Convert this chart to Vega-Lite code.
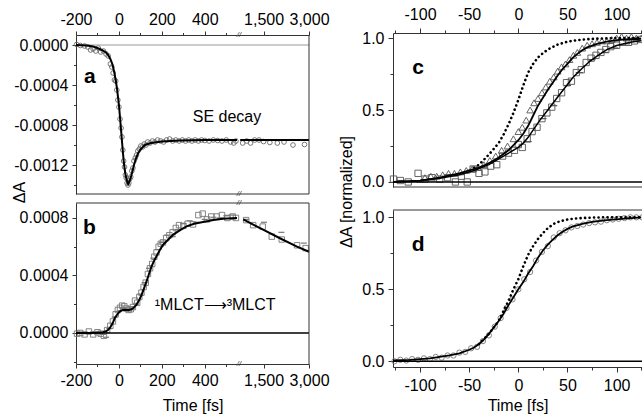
{
  "$schema": "https://vega.github.io/schema/vega-lite/v6.json",
  "width": 642,
  "height": 414,
  "autosize": {"type": "none"},
  "padding": 0,
  "background": "white",
  "config": {
    "font": "Liberation Sans",
    "view": {"stroke": null},
    "axis": {
      "labelFont": "Liberation Sans", "labelFontSize": 16, "labelColor": "#000",
      "titleFont": "Liberation Sans", "titleFontSize": 16, "titleFontWeight": "normal", "titleColor": "#000",
      "domainColor": "#333", "tickColor": "#333", "grid": false,
      "labelFlush": false, "labelOverlap": false, "labelBound": false
    }
  },
  "datasets": {
    "aFit": [
      {"t":-200,"v":0},{"t":-150,"v":-0.000005},{"t":-120,"v":-0.000015},{"t":-100,"v":-0.00003},{"t":-80,"v":-0.00005},
      {"t":-60,"v":-0.000075},{"t":-50,"v":-0.0001},{"t":-40,"v":-0.00014},{"t":-30,"v":-0.000195},{"t":-20,"v":-0.00029},
      {"t":-10,"v":-0.00042},{"t":0,"v":-0.0006},{"t":8,"v":-0.0008},{"t":16,"v":-0.00101},{"t":23,"v":-0.00118},
      {"t":30,"v":-0.00129},{"t":37,"v":-0.00136},{"t":43,"v":-0.00139},{"t":50,"v":-0.00136},{"t":57,"v":-0.00131},
      {"t":63,"v":-0.00126},{"t":70,"v":-0.0012},{"t":80,"v":-0.00113},{"t":90,"v":-0.00108},{"t":100,"v":-0.001045},
      {"t":121,"v":-0.001},{"t":150,"v":-0.00098},{"t":200,"v":-0.000965},{"t":284,"v":-0.000955},{"t":400,"v":-0.00095},
      {"t":550,"v":-0.00095},{"t":1050,"v":-0.00095},{"t":3000,"v":-0.00095}
    ],
    "aPts": [
      {"t":-197,"v":0.000005},{"t":-180,"v":-0.000005},{"t":-160,"v":-0.00001},{"t":-145,"v":-0.00002},{"t":-132,"v":-0.00005},
      {"t":-120,"v":-0.00004},{"t":-108,"v":-0.00006},{"t":-96,"v":-0.00003},{"t":-85,"v":-0.00007},{"t":-72,"v":-0.00006},
      {"t":-60,"v":-0.00009},{"t":-50,"v":-0.00011},{"t":-40,"v":-0.00019},{"t":-33,"v":-0.00022},{"t":-27,"v":-0.00028},
      {"t":-21,"v":-0.00035},{"t":-15,"v":-0.00036},{"t":-10,"v":-0.00045},{"t":-5,"v":-0.00055},{"t":0,"v":-0.00062},
      {"t":5,"v":-0.00074},{"t":10,"v":-0.00083},{"t":14,"v":-0.00092},{"t":18,"v":-0.00105},{"t":22,"v":-0.00116},
      {"t":26,"v":-0.00122},{"t":30,"v":-0.0013},{"t":34,"v":-0.00133},{"t":38,"v":-0.00138},{"t":42,"v":-0.0014},
      {"t":46,"v":-0.00138},{"t":50,"v":-0.00134},{"t":55,"v":-0.00132},{"t":60,"v":-0.00126},{"t":65,"v":-0.00123},
      {"t":70,"v":-0.00116},{"t":76,"v":-0.00113},{"t":82,"v":-0.0011},{"t":88,"v":-0.00106},{"t":95,"v":-0.00104},
      {"t":102,"v":-0.00101},{"t":110,"v":-0.00102},{"t":118,"v":-0.00099},{"t":126,"v":-0.001},{"t":134,"v":-0.00097},
      {"t":145,"v":-0.00098},{"t":156,"v":-0.00096},{"t":168,"v":-0.00097},{"t":180,"v":-0.00095},{"t":194,"v":-0.00096},
      {"t":208,"v":-0.00097},{"t":222,"v":-0.00095},{"t":236,"v":-0.00094},{"t":250,"v":-0.00096},{"t":265,"v":-0.00095},
      {"t":280,"v":-0.00096},{"t":295,"v":-0.00095},{"t":310,"v":-0.00096},{"t":325,"v":-0.00095},{"t":340,"v":-0.00096},
      {"t":355,"v":-0.00095},{"t":370,"v":-0.00096},{"t":385,"v":-0.00095},{"t":400,"v":-0.000955},{"t":420,"v":-0.00096},
      {"t":440,"v":-0.00095},{"t":460,"v":-0.000955},{"t":480,"v":-0.00096},{"t":500,"v":-0.00095},{"t":520,"v":-0.00097},
      {"t":535,"v":-0.00098},{"t":545,"v":-0.00096},
      {"t":1090,"v":-0.00098},{"t":1160,"v":-0.00096},{"t":1230,"v":-0.00098},{"t":1310,"v":-0.00095},{"t":1400,"v":-0.00095},
      {"t":1500,"v":-0.000965},{"t":1650,"v":-0.000975},{"t":1850,"v":-0.00098},{"t":2050,"v":-0.00097},{"t":2350,"v":-0.001},
      {"t":2800,"v":-0.000995}
    ],
    "bFit": [
      {"t":-200,"v":0},{"t":-150,"v":0},{"t":-100,"v":0.000002},{"t":-75,"v":0.000005},{"t":-60,"v":0.000012},
      {"t":-50,"v":0.000022},{"t":-42,"v":0.000035},{"t":-30,"v":0.000065},{"t":-19,"v":0.000104},{"t":-5,"v":0.000135},
      {"t":5,"v":0.00015},{"t":15,"v":0.000158},{"t":28,"v":0.000162},{"t":45,"v":0.00016},{"t":59,"v":0.000165},
      {"t":70,"v":0.000178},{"t":82,"v":0.000197},{"t":95,"v":0.00023},{"t":106,"v":0.000266},{"t":118,"v":0.000315},
      {"t":129,"v":0.00036},{"t":140,"v":0.00041},{"t":152,"v":0.000464},{"t":163,"v":0.0005},{"t":175,"v":0.000533},
      {"t":190,"v":0.000575},{"t":206,"v":0.000614},{"t":230,"v":0.00065},{"t":253,"v":0.000684},{"t":285,"v":0.000715},
      {"t":315,"v":0.000742},{"t":350,"v":0.00076},{"t":392,"v":0.000772},{"t":440,"v":0.000785},{"t":485,"v":0.000795},
      {"t":550,"v":0.0008},
      {"t":1100,"v":0.00079},{"t":1300,"v":0.00075},{"t":1500,"v":0.000717},{"t":2000,"v":0.00065},{"t":2500,"v":0.0006},{"t":3000,"v":0.000565}
    ],
    "bSq": [
      {"t":-195,"v":-0.000005},{"t":-180,"v":0},{"t":-160,"v":-0.00001},{"t":-140,"v":0.00001},{"t":-120,"v":-0.00001},
      {"t":-100,"v":0.000005},{"t":-85,"v":-0.000005},{"t":-70,"v":-0.00002},{"t":-55,"v":0.00002},{"t":-40,"v":0.00005},
      {"t":-28,"v":0.00008},{"t":-15,"v":0.00013},{"t":-5,"v":0.00016},{"t":5,"v":0.000175},{"t":15,"v":0.00019},
      {"t":25,"v":0.000185},{"t":35,"v":0.00017},{"t":45,"v":0.00016},{"t":55,"v":0.000165},{"t":65,"v":0.00018},
      {"t":75,"v":0.000225},{"t":85,"v":0.00021},{"t":95,"v":0.00025},{"t":105,"v":0.00028},{"t":115,"v":0.00032},
      {"t":125,"v":0.00035},{"t":135,"v":0.00041},{"t":145,"v":0.00045},{"t":155,"v":0.00048},{"t":165,"v":0.00053},
      {"t":175,"v":0.00056},{"t":185,"v":0.0006},{"t":195,"v":0.00062},{"t":205,"v":0.00063},{"t":220,"v":0.00066},
      {"t":235,"v":0.00068},{"t":250,"v":0.0007},{"t":265,"v":0.00073},{"t":280,"v":0.00075},{"t":300,"v":0.000745},
      {"t":320,"v":0.00076},{"t":345,"v":0.000755},{"t":370,"v":0.00082},{"t":390,"v":0.00083},{"t":410,"v":0.00079},
      {"t":430,"v":0.00081},{"t":455,"v":0.00081},{"t":480,"v":0.00082},{"t":505,"v":0.0008},{"t":530,"v":0.00081},
      {"t":545,"v":0.0008},
      {"t":1150,"v":0.000785},{"t":1280,"v":0.00075},{"t":1480,"v":0.00074},{"t":1700,"v":0.00067},{"t":1980,"v":0.00065},
      {"t":2500,"v":0.00061},{"t":2850,"v":0.00059}
    ],
    "bDash": [
      {"t":-185,"v":0.000005},{"t":-150,"v":-0.000005},{"t":-110,"v":0.00001},{"t":-75,"v":-0.00001},{"t":-60,"v":-0.00003},
      {"t":-45,"v":0.00003},{"t":-20,"v":0.00011},{"t":0,"v":0.00015},{"t":20,"v":0.000175},{"t":40,"v":0.000155},
      {"t":60,"v":0.00017},{"t":80,"v":0.0002},{"t":100,"v":0.00027},{"t":120,"v":0.00035},{"t":140,"v":0.00045},
      {"t":160,"v":0.00052},{"t":180,"v":0.00058},{"t":200,"v":0.00063},{"t":225,"v":0.00068},{"t":250,"v":0.00067},
      {"t":275,"v":0.00072},{"t":300,"v":0.00076},{"t":330,"v":0.00078},{"t":360,"v":0.00077},{"t":400,"v":0.00079},
      {"t":440,"v":0.000805},{"t":470,"v":0.0008},{"t":500,"v":0.000815},{"t":525,"v":0.00082},
      {"t":1150,"v":0.00079},{"t":1510,"v":0.00077},{"t":1970,"v":0.0007},{"t":2770,"v":0.000625}
    ],
    "cDot": [
      {"t":-45,"v":0.1},{"t":-40,"v":0.12},{"t":-30,"v":0.19},{"t":-20,"v":0.27},{"t":-15,"v":0.33},{"t":-10,"v":0.4},
      {"t":-5,"v":0.48},{"t":0,"v":0.57},{"t":5,"v":0.67},{"t":10,"v":0.76},{"t":15,"v":0.82},{"t":20,"v":0.865},
      {"t":25,"v":0.895},{"t":30,"v":0.92},{"t":40,"v":0.955},{"t":50,"v":0.975},{"t":60,"v":0.985},{"t":70,"v":0.992},
      {"t":80,"v":0.996},{"t":100,"v":1.0},{"t":125,"v":1.0}
    ],
    "cTriFit": [
      {"t":-127.5,"v":0},{"t":-110,"v":0.005},{"t":-100,"v":0.01},{"t":-90,"v":0.02},{"t":-80,"v":0.03},{"t":-70,"v":0.045},
      {"t":-60,"v":0.06},{"t":-50,"v":0.08},{"t":-40,"v":0.1},{"t":-30,"v":0.13},{"t":-20,"v":0.17},{"t":-10,"v":0.22},
      {"t":0,"v":0.29},{"t":5,"v":0.335},{"t":10,"v":0.39},{"t":15,"v":0.46},{"t":20,"v":0.53},{"t":25,"v":0.585},
      {"t":30,"v":0.64},{"t":35,"v":0.69},{"t":40,"v":0.74},{"t":45,"v":0.785},{"t":50,"v":0.82},{"t":55,"v":0.86},
      {"t":60,"v":0.89},{"t":65,"v":0.915},{"t":70,"v":0.935},{"t":80,"v":0.96},{"t":90,"v":0.975},{"t":100,"v":0.985},
      {"t":110,"v":0.99},{"t":125,"v":0.995}
    ],
    "cSqFit": [
      {"t":-127.5,"v":0},{"t":-100,"v":0.01},{"t":-80,"v":0.025},{"t":-60,"v":0.05},{"t":-45,"v":0.08},{"t":-30,"v":0.12},
      {"t":-15,"v":0.18},{"t":0,"v":0.24},{"t":5,"v":0.27},{"t":10,"v":0.31},{"t":15,"v":0.36},{"t":22,"v":0.43},
      {"t":30,"v":0.5},{"t":40,"v":0.59},{"t":48,"v":0.66},{"t":56,"v":0.73},{"t":65,"v":0.79},{"t":73,"v":0.84},
      {"t":80,"v":0.875},{"t":90,"v":0.92},{"t":100,"v":0.948},{"t":114,"v":0.97},{"t":125,"v":0.982}
    ],
    "cTri": [
      {"t":-95,"v":0.03},{"t":-89,"v":0.04},{"t":-83,"v":0.04},{"t":-77,"v":0.05},{"t":-71,"v":0.06},{"t":-65,"v":0.06},
      {"t":-59,"v":0.07},{"t":-53,"v":0.08},{"t":-47,"v":0.09},{"t":-41,"v":0.1},{"t":-35,"v":0.12},{"t":-29,"v":0.15},
      {"t":-23,"v":0.18},{"t":-17,"v":0.22},{"t":-11,"v":0.25},{"t":-5,"v":0.3},{"t":0,"v":0.35},{"t":4,"v":0.38},
      {"t":8,"v":0.43},{"t":12,"v":0.5},{"t":16,"v":0.55},{"t":20,"v":0.58},{"t":24,"v":0.62},{"t":28,"v":0.66},
      {"t":32,"v":0.7},{"t":36,"v":0.73},{"t":40,"v":0.77},{"t":44,"v":0.8},{"t":48,"v":0.82},{"t":52,"v":0.85},
      {"t":56,"v":0.88},{"t":60,"v":0.9},{"t":65,"v":0.93},{"t":70,"v":0.95},{"t":75,"v":0.96},{"t":80,"v":0.97},
      {"t":85,"v":0.98},{"t":90,"v":0.98},{"t":95,"v":0.99},{"t":100,"v":1.0},{"t":105,"v":1.01},{"t":110,"v":1.0},
      {"t":115,"v":1.01},{"t":120,"v":1.0},{"t":125,"v":1.0}
    ],
    "cSq": [
      {"t":-127,"v":0.02},{"t":-120,"v":0.01},{"t":-112,"v":0.0},{"t":-102,"v":0.06},{"t":-95,"v":0.02},{"t":-88,"v":0.03},
      {"t":-80,"v":0.02},{"t":-72,"v":0.03},{"t":-64,"v":0.0},{"t":-58,"v":0.04},{"t":-52,"v":0.0},{"t":-46,"v":0.09},
      {"t":-40,"v":0.06},{"t":-34,"v":0.07},{"t":-28,"v":0.11},{"t":-22,"v":0.12},{"t":-16,"v":0.18},{"t":-10,"v":0.2},
      {"t":-4,"v":0.22},{"t":0,"v":0.26},{"t":4,"v":0.24},{"t":9,"v":0.3},{"t":14,"v":0.35},{"t":19,"v":0.38},
      {"t":24,"v":0.44},{"t":29,"v":0.48},{"t":34,"v":0.52},{"t":39,"v":0.58},{"t":44,"v":0.62},{"t":49,"v":0.69},
      {"t":54,"v":0.7},{"t":59,"v":0.76},{"t":64,"v":0.78},{"t":69,"v":0.83},{"t":74,"v":0.86},{"t":79,"v":0.88},
      {"t":84,"v":0.9},{"t":89,"v":0.92},{"t":94,"v":0.94},{"t":100,"v":0.95},{"t":106,"v":0.97},{"t":112,"v":0.97},
      {"t":118,"v":0.98},{"t":124,"v":0.99}
    ],
    "cDash": [
      {"t":-120,"v":0.01},{"t":-100,"v":0.0},{"t":10,"v":0.28},{"t":25,"v":0.44},{"t":36,"v":0.53},{"t":50,"v":0.67},
      {"t":62,"v":0.76},{"t":75,"v":0.85},{"t":88,"v":0.9},{"t":98,"v":0.93},{"t":110,"v":0.96},{"t":120,"v":0.98}
    ],
    "dDot": [
      {"t":-40,"v":0.12},{"t":-30,"v":0.19},{"t":-25,"v":0.235},{"t":-20,"v":0.28},{"t":-15,"v":0.35},{"t":-10,"v":0.42},
      {"t":-5,"v":0.5},{"t":0,"v":0.57},{"t":5,"v":0.66},{"t":10,"v":0.74},{"t":15,"v":0.8},{"t":20,"v":0.85},
      {"t":25,"v":0.89},{"t":30,"v":0.925},{"t":36,"v":0.955},{"t":42,"v":0.972},{"t":50,"v":0.985},{"t":60,"v":0.993},
      {"t":70,"v":0.997},{"t":85,"v":1.0},{"t":125,"v":1.0}
    ],
    "dFit": [
      {"t":-127.5,"v":0.005},{"t":-110,"v":0.01},{"t":-100,"v":0.015},{"t":-90,"v":0.02},{"t":-80,"v":0.03},{"t":-70,"v":0.04},
      {"t":-60,"v":0.055},{"t":-50,"v":0.08},{"t":-45,"v":0.095},{"t":-40,"v":0.12},{"t":-35,"v":0.15},{"t":-30,"v":0.19},
      {"t":-25,"v":0.235},{"t":-20,"v":0.28},{"t":-15,"v":0.33},{"t":-10,"v":0.39},{"t":-5,"v":0.445},{"t":0,"v":0.5},
      {"t":5,"v":0.55},{"t":10,"v":0.61},{"t":15,"v":0.66},{"t":20,"v":0.72},{"t":25,"v":0.77},{"t":30,"v":0.81},
      {"t":35,"v":0.845},{"t":40,"v":0.875},{"t":45,"v":0.9},{"t":50,"v":0.92},{"t":55,"v":0.935},{"t":65,"v":0.955},
      {"t":75,"v":0.968},{"t":90,"v":0.98},{"t":105,"v":0.99},{"t":125,"v":1.0}
    ],
    "dPts": [
      {"t":-126,"v":0.0},{"t":-120,"v":0.01},{"t":-114,"v":0.005},{"t":-108,"v":0.015},{"t":-102,"v":0.01},{"t":-96,"v":0.02},
      {"t":-90,"v":0.015},{"t":-84,"v":0.03},{"t":-78,"v":0.025},{"t":-72,"v":0.04},{"t":-66,"v":0.04},{"t":-60,"v":0.06},
      {"t":-54,"v":0.065},{"t":-48,"v":0.09},{"t":-42,"v":0.1},{"t":-36,"v":0.14},{"t":-30,"v":0.18},{"t":-24,"v":0.24},
      {"t":-18,"v":0.3},{"t":-12,"v":0.37},{"t":-6,"v":0.43},{"t":0,"v":0.5},{"t":6,"v":0.57},{"t":12,"v":0.62},
      {"t":18,"v":0.7},{"t":24,"v":0.76},{"t":30,"v":0.8},{"t":36,"v":0.86},{"t":42,"v":0.89},{"t":48,"v":0.91},
      {"t":54,"v":0.93},{"t":60,"v":0.94},{"t":66,"v":0.95},{"t":72,"v":0.96},{"t":78,"v":0.965},{"t":84,"v":0.97},
      {"t":90,"v":0.98},{"t":96,"v":0.985},{"t":102,"v":0.99},{"t":108,"v":0.995},{"t":114,"v":1.0},{"t":120,"v":1.0},
      {"t":126,"v":1.0}
    ]
  },
  "resolve": {"scale": {"x": "independent", "y": "independent"}, "axis": {"x": "independent", "y": "independent"}},
  "layer": [
    {
      "layer": [
        {
          "data": {"name": "aPts"}, "transform": [{"filter": "datum.t <= 550"}],
          "mark": {"type": "point", "shape": "circle", "filled": false, "stroke": "#6a6a6a", "strokeWidth": 0.9, "size": 22, "opacity": 1},
          "encoding": {
            "x": {"field": "t", "type": "quantitative",
              "scale": {"domain": [-200, 550], "range": [76, 237], "nice": false, "zero": false},
              "axis": {"orient": "top", "offset": -35, "title": null, "values": [-200,-100,0,100,200,300,400,500],
                "labelExpr": "datum.value % 200 == 0 ? replace(format(datum.value, 'd'), '\u2212', '-') : ''",
                "tickSize": {"condition": {"test": "datum.value % 200 == 0", "value": 4}, "value": 2.5},
                "labelPadding": 4}},
            "y": {"field": "v", "type": "quantitative",
              "scale": {"domain": [-0.00149, 0.0001], "range": [194, 35], "nice": false, "zero": false},
              "axis": {"orient": "left", "offset": -76, "values": [-0.0014,-0.0012,-0.001,-0.0008,-0.0006,-0.0004,-0.0002,0],
                "labelExpr": "round(datum.value * 10000) % 4 == 0 ? replace(format(datum.value, '.4f'), '\u2212', '-') : ''",
                "tickSize": {"condition": {"test": "round(datum.value * 10000) % 4 == 0", "value": 4}, "value": 2.5},
                "labelPadding": 4,
                "title": "ΔA", "titleX": -57, "titleY": 192, "titleAngle": 270, "titleAlign": "center", "titleBaseline": "middle"}}
          }
        },
        {
          "data": {"values": [{}]},
          "mark": {"type": "rule", "color": "#999", "strokeWidth": 1},
          "encoding": {"x": {"datum": -200, "type": "quantitative"}, "x2": {"datum": 550},
            "y": {"datum": 0, "type": "quantitative"}}
        },
        {
          "data": {"name": "aFit"}, "transform": [{"filter": "datum.t <= 550"}],
          "mark": {"type": "line", "color": "#000", "strokeWidth": 2},
          "encoding": {"x": {"field": "t", "type": "quantitative"}, "y": {"field": "v", "type": "quantitative"}}
        },
        {
          "data": {"values": [{}]},
          "mark": {"type": "rule", "color": "#333", "strokeWidth": 1},
          "encoding": {"x": {"datum": -200, "type": "quantitative"}, "x2": {"datum": 550},
            "y": {"datum": -0.00149, "type": "quantitative"}}
        },
        {
          "data": {"values": [{}]},
          "mark": {"type": "text", "fontSize": 21, "fontWeight": "bold", "align": "center", "baseline": "middle"},
          "encoding": {"x": {"datum": -135, "type": "quantitative"}, "y": {"datum": -0.00032, "type": "quantitative"}, "text": {"value": "a"}}
        },
        {
          "data": {"values": [{}]},
          "mark": {"type": "text", "fontSize": 16, "align": "left", "baseline": "middle"},
          "encoding": {"x": {"datum": 344, "type": "quantitative"}, "y": {"datum": -0.00072, "type": "quantitative"}, "text": {"value": "SE decay"}}
        }
      ]
    },
    {
      "layer": [
        {
          "data": {"name": "aPts"}, "transform": [{"filter": "datum.t >= 1000"}],
          "mark": {"type": "point", "shape": "circle", "filled": false, "stroke": "#6a6a6a", "strokeWidth": 0.9, "size": 22, "opacity": 1},
          "encoding": {
            "x": {"field": "t", "type": "quantitative",
              "scale": {"type": "log", "domain": [1000, 3000], "range": [237, 309], "nice": false},
              "axis": {"orient": "top", "offset": -35, "title": null, "values": [1500, 3000], "format": ",d", "tickSize": 4, "labelPadding": 4}},
            "y": {"field": "v", "type": "quantitative",
              "scale": {"domain": [-0.00149, 0.0001], "range": [194, 35], "nice": false, "zero": false}, "axis": null}
          }
        },
        {
          "data": {"values": [{}]},
          "mark": {"type": "rule", "color": "#999", "strokeWidth": 1},
          "encoding": {"x": {"datum": 1000, "type": "quantitative"}, "x2": {"datum": 3000},
            "y": {"datum": 0, "type": "quantitative", "axis": null}}
        },
        {
          "data": {"name": "aFit"}, "transform": [{"filter": "datum.t >= 1000"}],
          "mark": {"type": "line", "color": "#000", "strokeWidth": 2},
          "encoding": {"x": {"field": "t", "type": "quantitative"}, "y": {"field": "v", "type": "quantitative", "axis": null}}
        },
        {
          "data": {"values": [{}]},
          "mark": {"type": "rule", "color": "#333", "strokeWidth": 1},
          "encoding": {"x": {"datum": 1000, "type": "quantitative"}, "x2": {"datum": 3000},
            "y": {"datum": -0.00149, "type": "quantitative", "axis": null}}
        },
        {
          "data": {"values": [{}]},
          "mark": {"type": "rule", "color": "#333", "strokeWidth": 1},
          "encoding": {"x": {"datum": 3000, "type": "quantitative"},
            "y": {"datum": -0.00149, "type": "quantitative", "axis": null}, "y2": {"datum": 0.0001}}
        },
        {
          "data": {"values": [{}]},
          "mark": {"type": "text", "fontSize": 8, "fontStyle": "italic", "align": "center", "baseline": "middle", "dx": 2, "color": "#333"},
          "encoding": {"x": {"datum": 1000, "type": "quantitative"}, "y": {"datum": 0.0001, "type": "quantitative", "axis": null}, "text": {"value": "//"}}
        },
        {
          "data": {"values": [{}]},
          "mark": {"type": "text", "fontSize": 8, "fontStyle": "italic", "align": "center", "baseline": "middle", "dx": 2, "color": "#333"},
          "encoding": {"x": {"datum": 1000, "type": "quantitative"}, "y": {"datum": -0.00149, "type": "quantitative", "axis": null}, "text": {"value": "//"}}
        }
      ]
    },
    {
      "layer": [
        {
          "data": {"name": "bSq"}, "transform": [{"filter": "datum.t <= 550"}],
          "mark": {"type": "point", "shape": "square", "filled": false, "stroke": "#777", "strokeWidth": 0.9, "size": 30, "opacity": 1},
          "encoding": {
            "x": {"field": "t", "type": "quantitative",
              "scale": {"domain": [-200, 550], "range": [76, 237], "nice": false, "zero": false},
              "axis": {"orient": "bottom", "offset": -50, "values": [-200,-100,0,100,200,300,400,500],
                "labelExpr": "datum.value % 200 == 0 ? replace(format(datum.value, 'd'), '\u2212', '-') : ''",
                "tickSize": {"condition": {"test": "datum.value % 200 == 0", "value": 4}, "value": 2.5},
                "labelPadding": 4,
                "title": "Time [fs]", "titleX": 192.5, "titleY": 41, "titleAlign": "center", "titleBaseline": "middle", "titleAngle": 0}},
            "y": {"field": "v", "type": "quantitative",
              "scale": {"domain": [-0.000216, 0.000904], "range": [364, 203], "nice": false, "zero": false},
              "axis": {"orient": "left", "offset": -76, "title": null, "values": [-0.0002,0,0.0002,0.0004,0.0006,0.0008],
                "labelExpr": "round(datum.value * 10000) % 4 == 0 ? replace(format(datum.value, '.4f'), '\u2212', '-') : ''",
                "tickSize": {"condition": {"test": "round(datum.value * 10000) % 4 == 0", "value": 4}, "value": 2.5},
                "labelPadding": 4}}
          }
        },
        {
          "data": {"name": "bDash"}, "transform": [{"filter": "datum.t <= 550"}],
          "mark": {"type": "point", "shape": "M-1,0L1,0", "filled": false, "stroke": "#777", "strokeWidth": 1.2, "size": 36, "opacity": 1},
          "encoding": {"x": {"field": "t", "type": "quantitative"}, "y": {"field": "v", "type": "quantitative"}}
        },
        {
          "data": {"values": [{}]},
          "mark": {"type": "rule", "color": "#000", "strokeWidth": 1.4},
          "encoding": {"x": {"datum": -200, "type": "quantitative"}, "x2": {"datum": 550},
            "y": {"datum": 0, "type": "quantitative"}}
        },
        {
          "data": {"name": "bFit"}, "transform": [{"filter": "datum.t <= 550"}],
          "mark": {"type": "line", "color": "#000", "strokeWidth": 2},
          "encoding": {"x": {"field": "t", "type": "quantitative"}, "y": {"field": "v", "type": "quantitative"}}
        },
        {
          "data": {"values": [{}]},
          "mark": {"type": "rule", "color": "#333", "strokeWidth": 1},
          "encoding": {"x": {"datum": -200, "type": "quantitative"}, "x2": {"datum": 550},
            "y": {"datum": 0.000904, "type": "quantitative"}}
        },
        {
          "data": {"values": [{}]},
          "mark": {"type": "text", "fontSize": 21, "fontWeight": "bold", "align": "center", "baseline": "middle"},
          "encoding": {"x": {"datum": -138, "type": "quantitative"}, "y": {"datum": 0.00073, "type": "quantitative"}, "text": {"value": "b"}}
        },
        {
          "data": {"values": [{}]},
          "mark": {"type": "text", "fontSize": 16, "align": "left", "baseline": "middle"},
          "encoding": {"x": {"datum": 167, "type": "quantitative"}, "y": {"datum": 0.000195, "type": "quantitative"}, "text": {"value": "¹MLCT⟶³MLCT"}}
        }
      ]
    },
    {
      "layer": [
        {
          "data": {"name": "bSq"}, "transform": [{"filter": "datum.t >= 1000"}],
          "mark": {"type": "point", "shape": "square", "filled": false, "stroke": "#777", "strokeWidth": 0.9, "size": 30, "opacity": 1},
          "encoding": {
            "x": {"field": "t", "type": "quantitative",
              "scale": {"type": "log", "domain": [1000, 3000], "range": [237, 309], "nice": false},
              "axis": {"orient": "bottom", "offset": -50, "title": null, "values": [1500, 3000], "format": ",d", "tickSize": 4, "labelPadding": 4}},
            "y": {"field": "v", "type": "quantitative",
              "scale": {"domain": [-0.000216, 0.000904], "range": [364, 203], "nice": false, "zero": false}, "axis": null}
          }
        },
        {
          "data": {"name": "bDash"}, "transform": [{"filter": "datum.t >= 1000"}],
          "mark": {"type": "point", "shape": "M-1,0L1,0", "filled": false, "stroke": "#777", "strokeWidth": 1.2, "size": 36, "opacity": 1},
          "encoding": {"x": {"field": "t", "type": "quantitative"}, "y": {"field": "v", "type": "quantitative", "axis": null}}
        },
        {
          "data": {"values": [{}]},
          "mark": {"type": "rule", "color": "#000", "strokeWidth": 1.4},
          "encoding": {"x": {"datum": 1000, "type": "quantitative"}, "x2": {"datum": 3000},
            "y": {"datum": 0, "type": "quantitative", "axis": null}}
        },
        {
          "data": {"name": "bFit"}, "transform": [{"filter": "datum.t >= 1000"}],
          "mark": {"type": "line", "color": "#000", "strokeWidth": 2},
          "encoding": {"x": {"field": "t", "type": "quantitative"}, "y": {"field": "v", "type": "quantitative", "axis": null}}
        },
        {
          "data": {"values": [{}]},
          "mark": {"type": "rule", "color": "#333", "strokeWidth": 1},
          "encoding": {"x": {"datum": 1000, "type": "quantitative"}, "x2": {"datum": 3000},
            "y": {"datum": 0.000904, "type": "quantitative", "axis": null}}
        },
        {
          "data": {"values": [{}]},
          "mark": {"type": "rule", "color": "#333", "strokeWidth": 1},
          "encoding": {"x": {"datum": 3000, "type": "quantitative"},
            "y": {"datum": -0.000216, "type": "quantitative", "axis": null}, "y2": {"datum": 0.000904}}
        },
        {
          "data": {"values": [{}]},
          "mark": {"type": "text", "fontSize": 8, "fontStyle": "italic", "align": "center", "baseline": "middle", "dx": 2, "color": "#333"},
          "encoding": {"x": {"datum": 1000, "type": "quantitative"}, "y": {"datum": 0.000904, "type": "quantitative", "axis": null}, "text": {"value": "//"}}
        },
        {
          "data": {"values": [{}]},
          "mark": {"type": "text", "fontSize": 8, "fontStyle": "italic", "align": "center", "baseline": "middle", "dx": 2, "color": "#333"},
          "encoding": {"x": {"datum": 1000, "type": "quantitative"}, "y": {"datum": -0.000216, "type": "quantitative", "axis": null}, "text": {"value": "//"}}
        }
      ]
    },
    {
      "layer": [
        {
          "data": {"name": "cSq"},
          "mark": {"type": "point", "shape": "square", "filled": false, "stroke": "#555", "strokeWidth": 0.9, "size": 40, "opacity": 1},
          "encoding": {
            "x": {"field": "t", "type": "quantitative",
              "scale": {"domain": [-127.5, 125.8], "range": [393, 642], "nice": false, "zero": false},
              "axis": {"orient": "top", "offset": -33, "title": null, "values": [-125,-100,-75,-50,-25,0,25,50,75,100,125],
                "labelExpr": "datum.value % 50 == 0 ? replace(format(datum.value, 'd'), '\u2212', '-') : ''",
                "tickSize": {"condition": {"test": "datum.value % 50 == 0", "value": 5}, "value": 3},
                "labelPadding": 6}},
            "y": {"field": "v", "type": "quantitative",
              "scale": {"domain": [-0.035, 1.035], "range": [187, 33], "nice": false, "zero": false},
              "axis": {"orient": "left", "offset": -393, "values": [0, 0.25, 0.5, 0.75, 1],
                "labelExpr": "round(datum.value * 4) % 2 == 0 ? format(datum.value, '.1f') : ''",
                "tickSize": {"condition": {"test": "round(datum.value * 4) % 2 == 0", "value": 5}, "value": 3},
                "labelPadding": 4,
                "title": "ΔA [normalized]", "titleX": -47, "titleY": 191.5, "titleAngle": 270, "titleAlign": "center", "titleBaseline": "middle"}}
          }
        },
        {
          "data": {"name": "cTri"},
          "mark": {"type": "point", "shape": "triangle-up", "filled": false, "stroke": "#555", "strokeWidth": 0.9, "size": 45, "opacity": 1},
          "encoding": {"x": {"field": "t", "type": "quantitative"}, "y": {"field": "v", "type": "quantitative"}}
        },
        {
          "data": {"name": "cDash"},
          "mark": {"type": "point", "shape": "M-1,0L1,0", "filled": false, "stroke": "#555", "strokeWidth": 1.2, "size": 50, "opacity": 1},
          "encoding": {"x": {"field": "t", "type": "quantitative"}, "y": {"field": "v", "type": "quantitative"}}
        },
        {
          "data": {"values": [{}]},
          "mark": {"type": "rule", "color": "#000", "strokeWidth": 1.4},
          "encoding": {"x": {"datum": -127.5, "type": "quantitative"}, "x2": {"datum": 125.8},
            "y": {"datum": 0, "type": "quantitative"}}
        },
        {
          "data": {"values": [{}]},
          "mark": {"type": "rule", "color": "#333", "strokeWidth": 1},
          "encoding": {"x": {"datum": -127.5, "type": "quantitative"}, "x2": {"datum": 125.8},
            "y": {"datum": -0.035, "type": "quantitative"}}
        },
        {
          "data": {"name": "cDot"},
          "mark": {"type": "line", "color": "#000", "strokeWidth": 2.6, "strokeDash": [0.1, 4.4], "strokeCap": "round"},
          "encoding": {"x": {"field": "t", "type": "quantitative"}, "y": {"field": "v", "type": "quantitative"}}
        },
        {
          "data": {"name": "cTriFit"},
          "mark": {"type": "line", "color": "#000", "strokeWidth": 1.8},
          "encoding": {"x": {"field": "t", "type": "quantitative"}, "y": {"field": "v", "type": "quantitative"}}
        },
        {
          "data": {"name": "cSqFit"},
          "mark": {"type": "line", "color": "#000", "strokeWidth": 1.5},
          "encoding": {"x": {"field": "t", "type": "quantitative"}, "y": {"field": "v", "type": "quantitative"}}
        },
        {
          "data": {"values": [{}]},
          "mark": {"type": "text", "fontSize": 21, "fontWeight": "bold", "align": "center", "baseline": "middle"},
          "encoding": {"x": {"datum": -102, "type": "quantitative"}, "y": {"datum": 0.79, "type": "quantitative"}, "text": {"value": "c"}}
        }
      ]
    },
    {
      "layer": [
        {
          "data": {"name": "dPts"},
          "mark": {"type": "point", "shape": "circle", "filled": false, "stroke": "#777", "strokeWidth": 0.9, "size": 28, "opacity": 1},
          "encoding": {
            "x": {"field": "t", "type": "quantitative",
              "scale": {"domain": [-127.5, 125.8], "range": [393, 642], "nice": false, "zero": false},
              "axis": {"orient": "bottom", "offset": -47, "values": [-125,-100,-75,-50,-25,0,25,50,75,100,125],
                "labelExpr": "datum.value % 50 == 0 ? replace(format(datum.value, 'd'), '\u2212', '-') : ''",
                "tickSize": {"condition": {"test": "datum.value % 50 == 0", "value": 5}, "value": 3},
                "labelPadding": 5,
                "title": "Time [fs]", "titleX": 517.5, "titleY": 38, "titleAlign": "center", "titleBaseline": "middle", "titleAngle": 0}},
            "y": {"field": "v", "type": "quantitative",
              "scale": {"domain": [-0.04, 1.051], "range": [367, 210], "nice": false, "zero": false},
              "axis": {"orient": "left", "offset": -393, "title": null, "values": [0, 0.25, 0.5, 0.75, 1],
                "labelExpr": "round(datum.value * 4) % 2 == 0 ? format(datum.value, '.1f') : ''",
                "tickSize": {"condition": {"test": "round(datum.value * 4) % 2 == 0", "value": 5}, "value": 3},
                "labelPadding": 4}}
          }
        },
        {
          "data": {"values": [{}]},
          "mark": {"type": "rule", "color": "#000", "strokeWidth": 1.4},
          "encoding": {"x": {"datum": -127.5, "type": "quantitative"}, "x2": {"datum": 125.8},
            "y": {"datum": 0, "type": "quantitative"}}
        },
        {
          "data": {"values": [{}]},
          "mark": {"type": "rule", "color": "#333", "strokeWidth": 1},
          "encoding": {"x": {"datum": -127.5, "type": "quantitative"}, "x2": {"datum": 125.8},
            "y": {"datum": 1.051, "type": "quantitative"}}
        },
        {
          "data": {"name": "dDot"},
          "mark": {"type": "line", "color": "#000", "strokeWidth": 2.6, "strokeDash": [0.1, 4.4], "strokeCap": "round"},
          "encoding": {"x": {"field": "t", "type": "quantitative"}, "y": {"field": "v", "type": "quantitative"}}
        },
        {
          "data": {"name": "dFit"},
          "mark": {"type": "line", "color": "#000", "strokeWidth": 1.8},
          "encoding": {"x": {"field": "t", "type": "quantitative"}, "y": {"field": "v", "type": "quantitative"}}
        },
        {
          "data": {"values": [{}]},
          "mark": {"type": "text", "fontSize": 21, "fontWeight": "bold", "align": "center", "baseline": "middle"},
          "encoding": {"x": {"datum": -102, "type": "quantitative"}, "y": {"datum": 0.81, "type": "quantitative"}, "text": {"value": "d"}}
        }
      ]
    }
  ]
}
